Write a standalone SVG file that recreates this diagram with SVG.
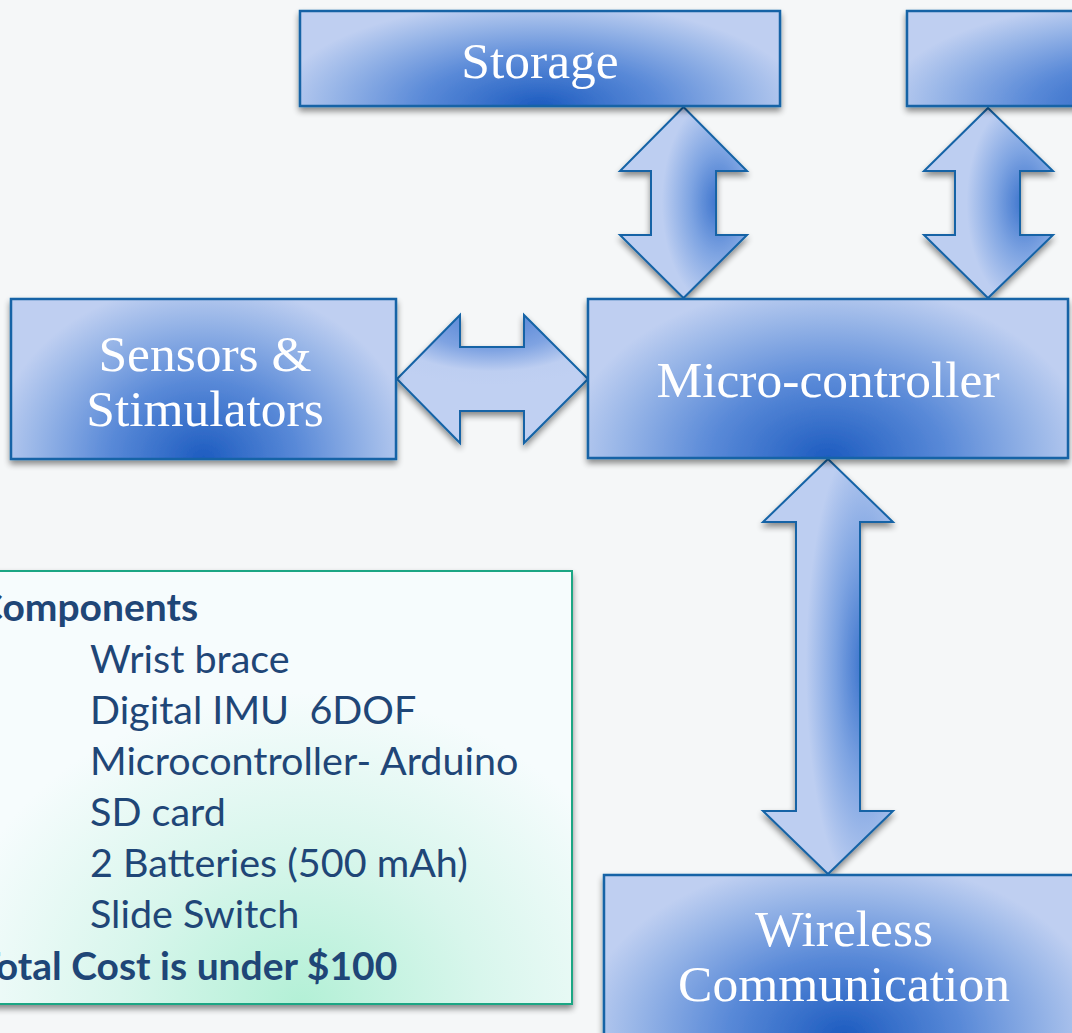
<svg xmlns="http://www.w3.org/2000/svg" width="1072" height="1033" viewBox="0 0 1072 1033">
<style>
.box{stroke:#1463a6;stroke-width:2.5;fill:url(#boxGrad);filter:url(#sh)}
.arrow{stroke:#1463a6;stroke-width:2;stroke-linejoin:miter;filter:url(#sh)}
.varrow{fill:url(#vGrad)}
.harrow{fill:url(#hGrad)}
.lbl{font-family:"Liberation Serif",serif;font-size:51.5px;fill:#ffffff;text-anchor:middle}
.item{font-family:Lato,"Open Sans",sans-serif;font-size:39.5px;fill:#1f4677;white-space:pre}
.bold{font-weight:bold;font-size:39px}
</style>
<defs>
<filter id="sh" x="-10%" y="-10%" width="120%" height="130%">
<feGaussianBlur in="SourceAlpha" stdDeviation="3"/>
<feOffset dx="0" dy="4" result="b"/>
<feComponentTransfer><feFuncA type="linear" slope="0.45"/></feComponentTransfer>
<feMerge><feMergeNode/><feMergeNode in="SourceGraphic"/></feMerge>
</filter>
<radialGradient id="boxGrad" cx="0.5" cy="1" r="0.55" gradientTransform="translate(0.5,1) scale(1,2) translate(-0.5,-1)">
<stop offset="0" stop-color="#1d5cc0"/>
<stop offset="0.45" stop-color="#5a8ad8"/>
<stop offset="0.8" stop-color="#9ab7e8"/>
<stop offset="1" stop-color="#bfcff1"/>
</radialGradient>
<radialGradient id="vGrad" cx="0.78" cy="0.5" r="0.5" gradientTransform="translate(0.78,0.5) scale(0.9,1.1) translate(-0.78,-0.5)">
<stop offset="0" stop-color="#3a72cc"/>
<stop offset="0.5" stop-color="#7ea4e2"/>
<stop offset="1" stop-color="#bdcef1"/>
</radialGradient>
<radialGradient id="hGrad" cx="0.5" cy="0" r="0.55" gradientTransform="translate(0.5,0) scale(1.4,1) translate(-0.5,0)">
<stop offset="0" stop-color="#4a7dd2"/>
<stop offset="0.5" stop-color="#7fa3e2"/>
<stop offset="0.8" stop-color="#bdcef1"/>
<stop offset="1" stop-color="#c0d0f2"/>
</radialGradient>
<radialGradient id="compGrad" cx="0.55" cy="1" r="0.6" gradientTransform="translate(0.55,1) scale(1,1.2) translate(-0.55,-1)">
<stop offset="0" stop-color="#b3f0d6"/>
<stop offset="0.5" stop-color="#d8f6ec"/>
<stop offset="1" stop-color="#f6fcfd"/>
</radialGradient>
</defs>
<rect width="1072" height="1033" fill="#f5f7f8"/>

<g id="connectors">
<polygon class="arrow varrow" points="683.5,107 747,171 716,171 716,235 747,235 683.5,298 620,235 651,235 651,171 620,171"/>
<polygon class="arrow varrow" points="988,108 1053,171 1020,171 1020,235 1053,235 988,298 924,235 955,235 955,171 924,171"/>
<polygon class="arrow harrow" points="397,379 460,315 460,347 524,347 524,315 588,379 524,443 524,411 460,411 460,443"/>
<polygon class="arrow varrow" points="828,459 893,522 860,522 860,811 893,811 828,874 763,811 796,811 796,522 763,522"/>
</g>

<g id="storage">
<rect class="box" x="300" y="11" width="480" height="95"/>
<text class="lbl" x="540" y="78">Storage</text>
</g>
<g id="topright">
<rect class="box" x="907" y="11" width="480" height="95"/>
</g>
<g id="sensors">
<rect class="box" x="11" y="299" width="385" height="160"/>
<text class="lbl" x="205" y="371">Sensors &amp;</text>
<text class="lbl" x="205" y="426">Stimulators</text>
</g>
<g id="microcontroller">
<rect class="box" x="588" y="299" width="480" height="159"/>
<text class="lbl" x="828" y="397">Micro-controller</text>
</g>
<g id="wireless">
<rect class="box" x="604" y="875" width="480" height="160"/>
<text class="lbl" x="844" y="946">Wireless</text>
<text class="lbl" x="844" y="1001">Communication</text>
</g>
<g id="components">
<rect x="-30" y="571" width="602" height="433" fill="url(#compGrad)" stroke="#1fa684" stroke-width="2" filter="url(#sh)"/>
<text class="item bold" x="-23" y="621">Components</text>
<text class="item" x="90" y="673">Wrist brace</text>
<text class="item" x="90" y="724" xml:space="preserve">Digital IMU  6DOF</text>
<text class="item" x="90" y="775">Microcontroller- Arduino</text>
<text class="item" x="90" y="826">SD card</text>
<text class="item" x="90" y="877">2 Batteries (500 mAh)</text>
<text class="item" x="90" y="928">Slide Switch</text>
<text class="item bold" x="-23" y="980">Total Cost is under $100</text>
</g>
</svg>
